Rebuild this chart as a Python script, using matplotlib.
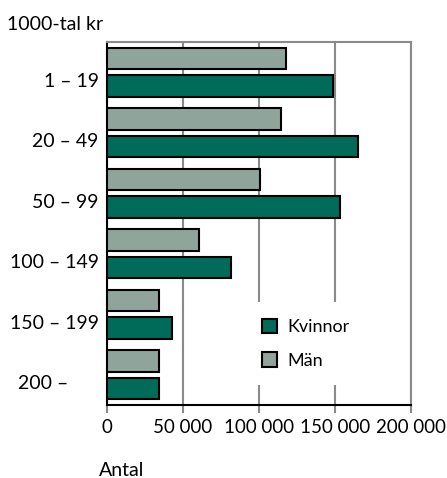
"""Inkomstfördelning per kön - liggande stapeldiagram."""

import matplotlib

matplotlib.use("Agg")
import matplotlib.pyplot as plt
import numpy as np

plt.rcParams["font.family"] = ["Lato", "DejaVu Sans"]

# Data
groups = ["1 – 19", "20 – 49", "50 – 99", "100 – 149", "150 – 199", "200 –      "]
kvinnor = [149000, 165000, 153000, 81500, 42500, 34000]
man = [118000, 114500, 100500, 60500, 34000, 34000]
xticks = [0, 50000, 100000, 150000, 200000]
xticklabels = ["0", "50 000", "100 000", "150 000", "200 000"]

C_KVINNOR = "#006b58"
C_MAN = "#8fa59c"
GRID = "#8a8a8a"
FS = 14

fig = plt.figure(figsize=(4.47, 4.78), dpi=100)
ax = fig.add_axes([0.2394, 0.1527, 0.6801, 0.7594])

idx = np.arange(len(groups))
h = 0.36
off = 0.227
ax.barh(idx - off, man, height=h, color=C_MAN, edgecolor="black", linewidth=1.5,
        label="Män", zorder=3)
ax.barh(idx + off, kvinnor, height=h, color=C_KVINNOR, edgecolor="black",
        linewidth=1.5, label="Kvinnor", zorder=3)

ax.set_xlim(0, 200000)
ax.set_ylim(len(groups) - 0.5, -0.5)

ax.set_xticks(xticks)
ax.set_xticklabels(xticklabels, fontsize=13.5)
ax.set_yticks(idx + 0.12)
ax.set_yticklabels(groups, fontsize=FS)
ax.tick_params(axis="y", length=0, pad=6)
ax.tick_params(axis="x", length=6, width=1.5, color=GRID, pad=4)
ax.xaxis.get_major_ticks()[0].tick1line.set_color("black")

ax.grid(axis="x", color=GRID, linewidth=1.5, zorder=0)
ax.set_axisbelow(True)

for side in ("top", "right"):
    ax.spines[side].set_color(GRID)
    ax.spines[side].set_linewidth(1.5)
for side in ("left", "bottom"):
    ax.spines[side].set_color("black")
    ax.spines[side].set_linewidth(1.5)

handles, labels = ax.get_legend_handles_labels()
leg = ax.legend(handles[::-1], labels[::-1], loc="lower left",
                bbox_to_anchor=(0.455, 0.055), frameon=True, fontsize=13,
                handlelength=0.85, handleheight=0.85, handletextpad=0.6,
                labelspacing=0.95, borderpad=0.9, borderaxespad=0)
leg.get_frame().set_edgecolor("none")
leg.get_frame().set_facecolor("white")
leg.get_frame().set_alpha(1)
leg.set_zorder(2)

fig.text(7 / 447, 1 - 24 / 478, "1000-tal kr", fontsize=FS, va="center", ha="left")
fig.text(99 / 447, 1 - 470 / 478, "Antal", fontsize=FS, va="center", ha="left")

fig.savefig("out.png", dpi=100)
